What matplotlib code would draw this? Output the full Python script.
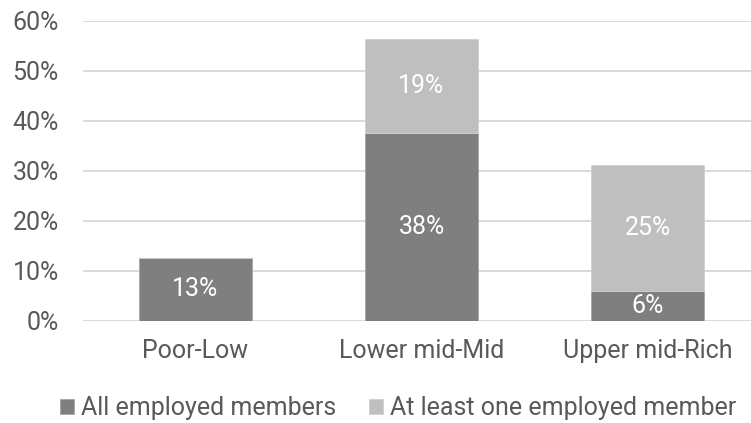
import matplotlib.pyplot as plt
import numpy as np

plt.rcParams['font.family'] = ['Roboto', 'DejaVu Sans']

# share of households by income group
groups = ['Poor-Low', 'Lower mid-Mid', 'Upper mid-Rich']
all_employed = [12.6, 37.5, 6.0]
one_employed = [0.0, 18.8, 25.1]
yticks = [0, 10, 20, 30, 40, 50, 60]

dark = '#7f7f7f'
light = '#bfbfbf'
txt = '#595959'
fs = 18

fig = plt.figure(figsize=(7.51, 4.23), dpi=100)
ax = fig.add_axes([82.5 / 751, 0.2418, 1 - 82.5 / 751, 0.951 - 0.2418])

x = np.arange(len(groups))
b1 = ax.bar(x, all_employed, width=0.5, color=dark, edgecolor='#a6a6a6',
            linewidth=0.6, label='All employed members', zorder=3)
b2 = ax.bar(x, one_employed, width=0.5, bottom=all_employed, color=light,
            edgecolor='#d0d0d0', linewidth=0.6,
            label='At least one employed member', zorder=3)

# value labels in the middle of each segment
for bars, vals, base in [(b1, all_employed, [0] * 3), (b2, one_employed, all_employed)]:
    for rect, v, b in zip(bars, vals, base):
        if v <= 0:
            continue
        ax.text(rect.get_x() + rect.get_width() / 2, b + v / 2, '{:.0f}%'.format(v),
                ha='center', va='center', color='white', fontsize=fs, zorder=4)

ax.set_xlim(-0.5, (751 - 82.5) / 226 - 0.5)
ax.set_ylim(0, 60)
ax.set_yticks(yticks)
ax.set_yticklabels(['{}%'.format(t) for t in yticks])
ax.set_xticks(x)
ax.set_xticklabels(groups)
ax.tick_params(axis='y', length=0, pad=17, labelsize=fs, labelcolor=txt)
ax.tick_params(axis='x', length=0, pad=13, labelsize=fs, labelcolor=txt)
ax.grid(axis='y', color='#d9d9d9', linewidth=1.4, zorder=0)
for s in ax.spines.values():
    s.set_visible(False)

fig.legend(loc='center', bbox_to_anchor=(398 / 751, 1 - 408 / 423), ncol=2,
           frameon=False, fontsize=fs, labelcolor=txt, handlelength=0.55,
           handleheight=0.55, handletextpad=0.3, columnspacing=1.3,
           borderaxespad=0)

fig.savefig('out.png', dpi=100)
